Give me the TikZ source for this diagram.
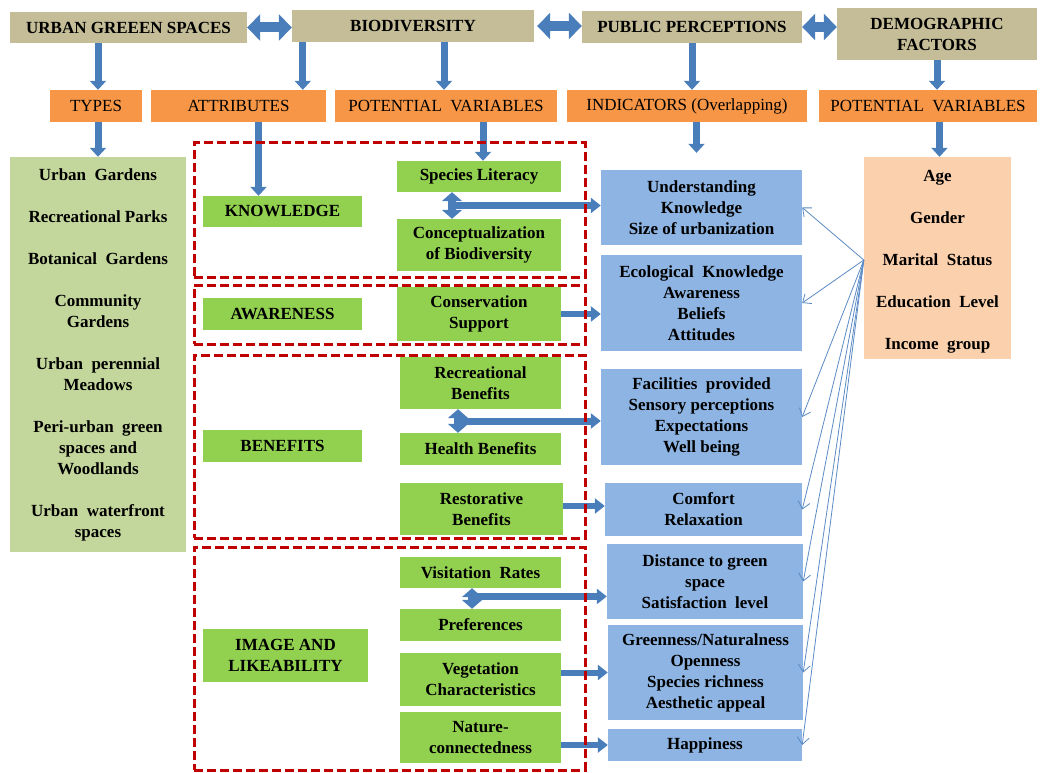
\documentclass[tikz,border=0pt]{standalone}
\usepackage{fontspec}
\setmainfont{Liberation Serif}
\usetikzlibrary{arrows.meta,calc}
\definecolor{tanc}{HTML}{C4BD97}
\definecolor{orc}{HTML}{F79646}
\definecolor{lgc}{HTML}{C3D69B}
\definecolor{grc}{HTML}{92D050}
\definecolor{blc}{HTML}{8DB4E2}
\definecolor{pec}{HTML}{FBD0AD}
\definecolor{redc}{HTML}{C00000}
\definecolor{arrc}{HTML}{4A7EBB}
\definecolor{thinc}{HTML}{5B8AC4}
\begin{document}
\begin{tikzpicture}[x=1pt,y=-1pt,
  box/.style={inner sep=0pt, align=center, font=\bfseries\fontsize{17}{21}\selectfont},
  tanbox/.style={box, fill=tanc},
  orbox/.style={box, fill=orc, font=\fontsize{17}{21}\selectfont},
  lgbox/.style={box, fill=lgc},
  gbox/.style={box, fill=grc},
  bbox/.style={box, fill=blc},
  pbox/.style={box, fill=pec},
  redbox/.style={draw=redc, line width=3pt, dash pattern=on 9pt off 4pt, inner sep=0pt},
  wh/.style 2 args={minimum width=#1pt, minimum height=#2pt},
  bigarr/.style={draw=arrc, line width=10pt, {Triangle[width=26pt,length=13pt]}-{Triangle[width=26pt,length=13pt]}},
  downarr/.style={draw=arrc, line width=7pt, -{Triangle[width=16pt,length=9pt]}},
  harr/.style={draw=arrc, line width=6pt, -{Triangle[width=15pt,length=10pt]}},
  vdarr/.style={draw=arrc, line width=8pt, {Triangle[width=20pt,length=9pt]}-{Triangle[width=20pt,length=9pt]}},
  thinarr/.style={draw=thinc, line width=0.8pt, -{Straight Barb[length=7pt,width=12pt]}}
]
\useasboundingbox (0,0) rectangle (1041,773);

% top row
\node[tanbox, wh={237}{31}] (ugs) at (128.5,27.5) {URBAN GREEEN SPACES};
\node[tanbox, wh={242}{32}] (bio) at (413,26) {BIODIVERSITY};
\node[tanbox, wh={220}{32}] (pp) at (692,27) {PUBLIC PERCEPTIONS};
\node[tanbox, wh={200}{52}] (df) at (937,34) {DEMOGRAPHIC\\FACTORS};

% orange row
\node[orbox, wh={92}{32}] (types) at (96,106) {TYPES};
\node[orbox, wh={175}{32}] (attr) at (238.5,106) {ATTRIBUTES};
\node[orbox, wh={222}{32}] (pv1) at (446,106) {POTENTIAL\ \ VARIABLES};
\node[orbox, wh={240}{32}] (ind) at (687,106) {INDICATORS (Overlapping)};
\node[orbox, wh={218}{32}] (pv2) at (928,106) {POTENTIAL\ \ VARIABLES};

% left list
\node[lgbox, wh={176}{395}] (list) at (98,354.5) {Urban\ \ Gardens\\[21pt]Recreational Parks\\[21pt]Botanical\ \ Gardens\\[21pt]Community\\Gardens\\[21pt]Urban\ \ perennial\\Meadows\\[21pt]Peri-urban\ \ green\\spaces and\\Woodlands\\[21pt]Urban\ \ waterfront\\spaces};

% peach
\node[pbox, wh={147}{202}] (peach) at (937.5,258) {\rule{0pt}{18pt}Age\\[21pt]Gender\\[21pt]Marital\ \ Status\\[21pt]Education\ \ Level\\[21pt]Income\ \ group};

% green boxes
\node[gbox, wh={159}{31}] (know) at (282.5,211.5) {KNOWLEDGE};
\node[gbox, wh={164}{31}] (spec) at (479,176.5) {Species Literacy};
\node[gbox, wh={164}{52}] (concept) at (479,245) {Conceptualization\\of Biodiversity};
\node[gbox, wh={159}{32}] (aware) at (282.5,314) {AWARENESS};
\node[gbox, wh={164}{54}] (cons) at (479,314) {Conservation\\Support};
\node[gbox, wh={161}{52}] (recr) at (480.5,383) {Recreational\\Benefits};
\node[gbox, wh={161}{32}] (health) at (480.5,449) {Health Benefits};
\node[gbox, wh={159}{32}] (benef) at (282.5,446) {BENEFITS};
\node[gbox, wh={163}{52}] (resto) at (481.5,509) {Restorative\\Benefits};
\node[gbox, wh={161}{31}] (visit) at (480.5,572.5) {Visitation\ \ Rates};
\node[gbox, wh={161}{32}] (pref) at (480.5,625) {Preferences};
\node[gbox, wh={161}{53}] (veg) at (480.5,679.5) {Vegetation\\Characteristics};
\node[gbox, wh={161}{51}] (nat) at (480.5,737.5) {Nature-\\connectedness};
\node[gbox, wh={165}{53}] (image) at (285.5,655.5) {IMAGE AND\\LIKEABILITY};

% blue boxes
\node[bbox, wh={201}{75}] (b1) at (701.5,207.5) {Understanding\\Knowledge\\Size of urbanization};
\node[bbox, wh={201}{96}] (b2) at (701.5,303) {Ecological\ \ Knowledge\\Awareness\\Beliefs\\Attitudes};
\node[bbox, wh={201}{96}] (b3) at (701.5,417) {Facilities\ \ provided\\Sensory perceptions\\Expectations\\Well being};
\node[bbox, wh={197}{53}] (b4) at (703.5,509.5) {Comfort\\Relaxation};
\node[bbox, wh={196}{75}] (b5) at (705,581.5) {Distance to green\\space\\Satisfaction\ \ level};
\node[bbox, wh={195}{95}] (b6) at (705.5,672.5) {Greenness/Naturalness\\Openness\\Species richness\\Aesthetic appeal};
\node[bbox, wh={194}{32}] (b7) at (705,745) {Happiness};

% big double arrows
\draw[bigarr] (ugs.east) -- (ugs.east -| bio.west);
\draw[bigarr] ([xshift=3pt]bio.east) -- (bio.east -| pp.west);
\draw[bigarr] (pp.east) -- (pp.east -| df.west);

% down arrows
\draw[downarr] ([xshift=2pt]types.north |- ugs.south) -- ([xshift=2pt]types.north);
\draw[downarr] ([xshift=11pt]bio.south west) -- ([xshift=11pt]bio.south west |- attr.north);
\draw[downarr] ([xshift=-2pt]pv1.north |- bio.south) -- ([xshift=-2pt]pv1.north);
\draw[downarr] (pp.south) -- (pp.south |- ind.north);
\draw[downarr] (df.south) -- (df.south |- pv2.north);
\draw[downarr] ([xshift=2pt]types.south) -- ([xshift=2pt]types.south |- list.north);
\draw[downarr] ([xshift=20pt]attr.south) -- ([xshift=20pt]attr.south |- know.north);
\draw[downarr] ([xshift=4pt]spec.north |- pv1.south) -- ([xshift=4pt]spec.north);
\draw[downarr] ([xshift=-5pt]b1.north |- ind.south) -- ([xshift=-5pt,yshift=17pt]b1.north);
\draw[downarr] ([xshift=2pt]peach.north |- pv2.south) -- ([xshift=2pt]peach.north);

% T-shaped arrows
\coordinate (ka) at ([xshift=-27pt]spec.south);
\coordinate (kb) at ([xshift=-27pt]spec.south |- concept.north);
\coordinate (km) at ($(ka)!0.5!(kb)$);
\draw[harr, line width=7pt] (km) -- (km -| b1.west);
\draw[vdarr] (ka) -- (kb);

\coordinate (ra) at ([xshift=-22.5pt]recr.south);
\coordinate (rb) at ([xshift=-22.5pt]recr.south |- health.north);
\coordinate (rm) at ($(ra)!0.5!(rb)$);
\draw[harr, line width=7pt] (rm) -- (rm -| b3.west);
\draw[vdarr] (ra) -- (rb);

\coordinate (va) at ([xshift=-8.5pt]visit.south);
\coordinate (vb) at ([xshift=-8.5pt]visit.south |- pref.north);
\coordinate (vm) at ($(va)!0.4!(vb)$);
\draw[harr, line width=7pt] (vm) -- (vm -| b5.west);
\draw[vdarr] (va) -- (vb);

% single horizontal arrows
\draw[harr] (cons.east) -- (cons.east -| b2.west);
\draw[harr] ([yshift=3pt]resto.east) -- ([yshift=3pt]resto.east -| b4.west);
\draw[harr] (b6.west -| veg.east) -- (b6.west);
\draw[harr] (b7.west -| nat.east) -- (b7.west);

% thin arrows
\coordinate (fan) at ([yshift=-2pt]peach.west);
\foreach \t in {b1,b2,b3,b4,b5,b6,b7}
  \draw[thinarr] (fan) -- (\t.east);

% dashed red frames
\node[redbox, wh={391}{134}] (r1) at (389.5,210) {};
\node[redbox, wh={391}{59}] (r2) at (389.5,314.5) {};
\node[redbox, wh={391}{183}] (r3) at (389.5,446.5) {};
\node[redbox, wh={391}{223}] (r4) at (389.5,658.5) {};
\end{tikzpicture}
\end{document}
